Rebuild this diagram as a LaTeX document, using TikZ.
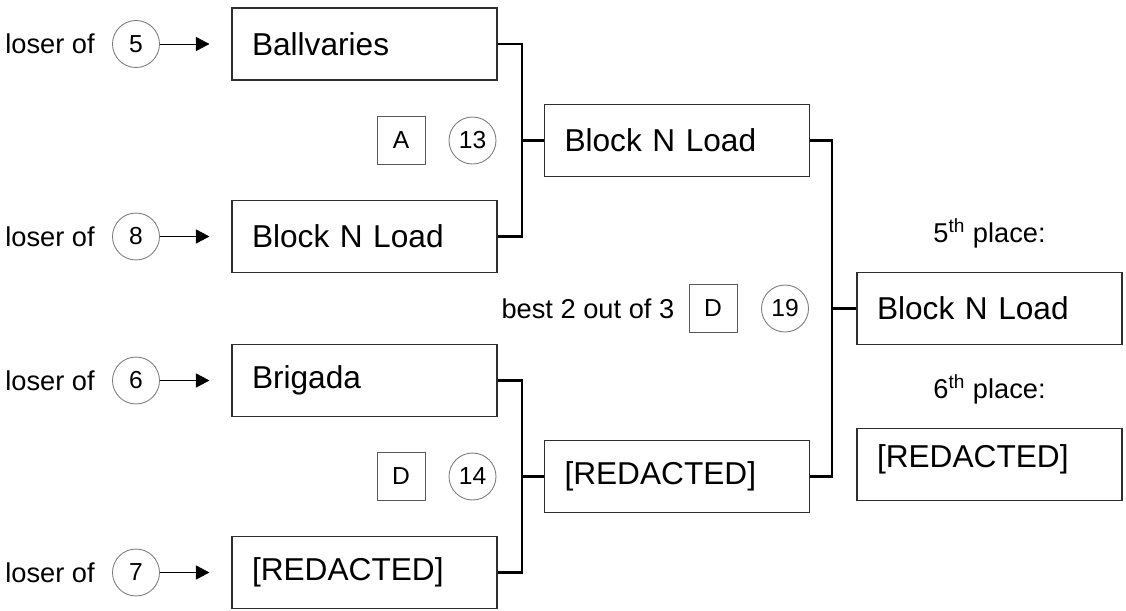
\documentclass[tikz,border=0pt]{standalone}
\usepackage{fontspec}
\setmainfont{Liberation Sans}
\usepackage{tikz}
\usetikzlibrary{arrows.meta, positioning}
\definecolor{boxline}{HTML}{2E2E2E}
\definecolor{sqline}{HTML}{5A5A5A}
\definecolor{ringgray}{HTML}{7C7C7C}
\tikzset{
  team/.style={rectangle, draw=boxline, line width=0.6pt, fill=white,
    font=\fontsize{18}{20}\selectfont, minimum width=5.3cm, minimum height=1.44cm,
    text width=4.5cm, align=left, inner xsep=0.4cm, inner ysep=0pt},
  game/.style={circle, draw=ringgray, line width=0.5pt, minimum size=0.94cm,
    inner sep=0pt, font=\fontsize{14}{16}\selectfont},
  field/.style={rectangle, draw=sqline, line width=0.5pt, minimum size=0.96cm,
    inner sep=0pt, font=\fontsize{14}{16}\selectfont},
  lbl/.style={font=\fontsize{15.5}{17}\selectfont, inner sep=0pt},
  feed/.style={-{Triangle[length=0.27cm, width=0.28cm]}, line width=0.5pt, shorten >=0.44cm},
  bracket/.style={line width=1.6pt, line join=miter},
}

\begin{document}
\begin{tikzpicture}
\useasboundingbox (0,0) rectangle (22.52,-12.2);

% first round (left column)
\node[game] (G5) at (2.72,-0.88)  {5};
\node[game] (G8) at (2.72,-4.73)  {8};
\node[game] (G6) at (2.72,-7.61)  {6};
\node[game] (G7) at (2.72,-11.45) {7};
\node[lbl, left=0.34cm of G5] (T5) {loser of};
\node[lbl, left=0.34cm of G8] (T8) {loser of};
\node[lbl, left=0.34cm of G6] (T6) {loser of};
\node[lbl, left=0.34cm of G7] (T7) {loser of};

\node[team] (L1) at (7.29,-0.88)  {Ballvaries};
\node[team] (L2) at (7.29,-4.73)  {Block N Load};
\node[team] (L3) at (7.29,-7.61)  {Brigada};
\node[team] (L4) at (7.29,-11.45) {[REDACTED]};

\node[field] (Q13) at (8.02,-2.81) {A};
\node[game]  (G13) at (9.45,-2.81) {13};
\node[field] (Q14) at (8.02,-9.53) {D};
\node[game]  (G14) at (9.45,-9.53) {14};

% second round
\node[team] (M1) at (13.54,-2.81) {Block N Load};
\node[team] (M2) at (13.54,-9.53) {[REDACTED]};

\node[field] (Q19) at (14.26,-6.17) {D};
\node[game]  (G19) at (15.7,-6.17)  {19};
\node[lbl, left=0.28cm of Q19] (B19) {best 2 out of 3};

% placings
\node[lbl, anchor=base] (H5) at (19.79,-4.84) {5\textsuperscript{th} place:};
\node[team] (P5) at (19.79,-6.17) {Block N Load};
\node[lbl, anchor=base] (H6) at (19.79,-7.96) {6\textsuperscript{th} place:};
\node[team] (P6) at (19.79,-9.29) {\raisebox{0.32cm}{[REDACTED]}};

\coordinate (J1) at (10.44,-2.81);
\coordinate (J2) at (10.44,-9.53);
\coordinate (J3) at (16.64,-6.17);

\draw[feed] (G5) -- (L1);
\draw[feed] (G8) -- (L2);
\draw[feed] (G6) -- (L3);
\draw[feed] (G7) -- (L4);

\draw[bracket] (L1.east) -| (J1) |- (L2.east);
\draw[bracket] (J1) -- (M1.west);
\draw[bracket] (L3.east) -| (J2) |- (L4.east);
\draw[bracket] (J2) -- (M2.west);
\draw[bracket] (M1.east) -| (J3) |- (M2.east);
\draw[bracket] (J3) -- (P5.west);

\end{tikzpicture}
\end{document}
